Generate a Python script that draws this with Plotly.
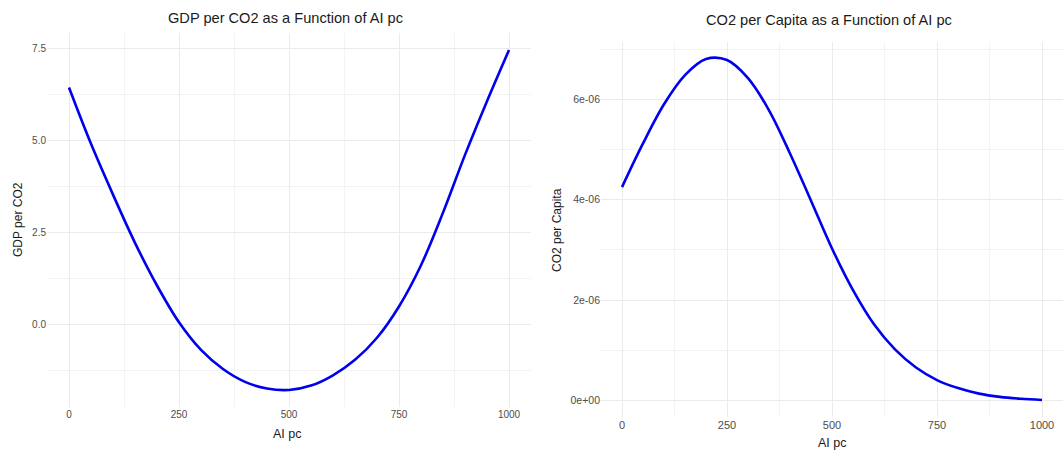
import plotly.graph_objects as go

# ---- data ----
ai_pc = [0, 50, 100, 150, 200, 250, 300, 350, 400, 450, 500,
         550, 600, 650, 700, 750, 800, 850, 900, 950, 1000]
gdp_per_co2 = [6.45, 4.92, 3.54, 2.23, 1.07, 0.07, -0.68, -1.20, -1.55, -1.73, -1.77,
               -1.65, -1.37, -0.95, -0.35, 0.50, 1.62, 3.05, 4.62, 6.08, 7.47]
co2_per_capita = [4.25e-06, 5.12e-06, 5.90e-06, 6.48e-06, 6.80e-06, 6.78e-06, 6.42e-06,
                  5.78e-06, 4.92e-06, 3.98e-06, 3.03e-06, 2.20e-06, 1.52e-06, 1.02e-06,
                  0.66e-06, 0.41e-06, 0.25e-06, 0.14e-06, 0.075e-06, 0.038e-06, 0.014e-06]

x_ticks = [0, 250, 500, 750, 1000]
x_minor = [125, 375, 625, 875]
left_y_ticks = [0.0, 2.5, 5.0, 7.5]
left_y_minor = [-1.25, 1.25, 3.75, 6.25]
right_y_ticks = [0, 2e-06, 4e-06, 6e-06]
right_y_ticklabels = ["0e+00", "2e-06", "4e-06", "6e-06"]
right_y_minor = [1e-06, 3e-06, 5e-06, 7e-06]

titles = ["GDP per CO2 as a Function of AI pc", "CO2 per Capita as a Function of AI pc"]
x_title = "AI pc"
y_titles = ["GDP per CO2", "CO2 per Capita"]

W, H = 1064, 451
FONT = "Liberation Sans, Arial, sans-serif"
MAJ = "#EBEBEB"
MIN = "#F3F3F3"

def px(v):
    return v / W

def py(v):
    return 1 - v / H

fig = go.Figure()
fig.add_trace(go.Scatter(x=ai_pc, y=gdp_per_co2, mode="lines", line=dict(color="#0000EE", width=2.6, shape="spline"),
                         xaxis="x", yaxis="y", showlegend=False, hoverinfo="x+y"))
fig.add_trace(go.Scatter(x=ai_pc, y=co2_per_capita, mode="lines", line=dict(color="#0000EE", width=2.6, shape="spline"),
                         xaxis="x2", yaxis="y2", showlegend=False, hoverinfo="x+y"))

def rng(vals):
    lo, hi = min(vals), max(vals)
    pad = (hi - lo) * 0.05
    return [lo - pad, hi + pad]

common = dict(showline=False, zeroline=False, ticks="", showgrid=True, gridcolor=MAJ, gridwidth=1.3)

fig.update_layout(
    width=W, height=H,
    margin=dict(l=0, r=0, t=0, b=0),
    paper_bgcolor="white", plot_bgcolor="white",
    font=dict(family=FONT, color="#4D4D4D"),
    xaxis=dict(domain=[px(47), px(531)], range=rng(ai_pc), tickmode="array", tickvals=x_ticks,
               tickfont=dict(size=10, color="#4D4D4D"), anchor="y",
               minor=dict(tickmode="array", tickvals=x_minor, showgrid=True, gridcolor=MIN, gridwidth=1),
               **common),
    yaxis=dict(domain=[py(407), py(33)], range=rng(gdp_per_co2), tickmode="array", tickvals=left_y_ticks,
               tickformat=".1f", tickfont=dict(size=10, color="#4D4D4D"), anchor="x",
               minor=dict(tickmode="array", tickvals=left_y_minor, showgrid=True, gridcolor=MIN, gridwidth=1),
               **common),
    xaxis2=dict(domain=[px(601), px(1063)], range=rng(ai_pc), tickmode="array", tickvals=x_ticks,
                tickfont=dict(size=11, color="#4D4D4D"), anchor="y2",
                minor=dict(tickmode="array", tickvals=x_minor, showgrid=True, gridcolor=MIN, gridwidth=1),
                **common),
    yaxis2=dict(domain=[py(417), py(42)], range=rng(co2_per_capita), tickmode="array", tickvals=right_y_ticks,
                ticktext=right_y_ticklabels, tickfont=dict(size=10.5, color="#4D4D4D"), anchor="x2",
                minor=dict(tickmode="array", tickvals=right_y_minor, showgrid=True, gridcolor=MIN, gridwidth=1),
                **common),
)

ann = [
    dict(text=titles[0], x=px(285), y=py(18), size=14.6),
    dict(text=titles[1], x=px(829), y=py(20), size=14.6),
    dict(text=x_title, x=px(287), y=py(434), size=12.5),
    dict(text=x_title, x=px(832), y=py(443), size=12.5),
]
for a in ann:
    fig.add_annotation(text=a["text"], x=a["x"], y=a["y"], xref="paper", yref="paper",
                       xanchor="center", yanchor="middle", showarrow=False,
                       font=dict(family=FONT, size=a["size"], color="#1A1A1A"))
fig.add_annotation(text=y_titles[0], x=px(18), y=py(220), xref="paper", yref="paper", textangle=-90,
                   xanchor="center", yanchor="middle", showarrow=False,
                   font=dict(family=FONT, size=12, color="#1A1A1A"))
fig.add_annotation(text=y_titles[1], x=px(557), y=py(230), xref="paper", yref="paper", textangle=-90,
                   xanchor="center", yanchor="middle", showarrow=False,
                   font=dict(family=FONT, size=12, color="#1A1A1A"))

fig.write_html("out.html", config={"displayModeBar": False})

# remove the browser's default 8px body margin so the figure sits at the page origin
with open("out.html", "r", encoding="utf-8") as f:
    html = f.read()
html = html.replace("<head>", "<head><style>html,body{margin:0;padding:0;overflow:hidden;}</style>", 1)
with open("out.html", "w", encoding="utf-8") as f:
    f.write(html)
